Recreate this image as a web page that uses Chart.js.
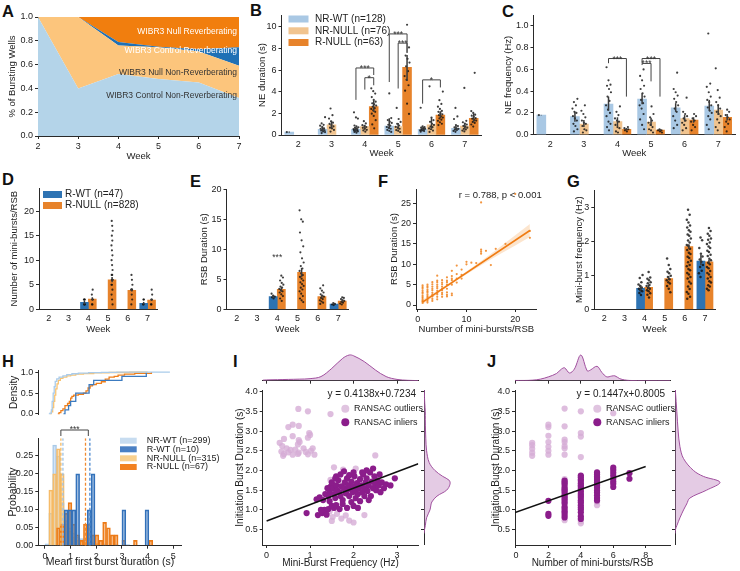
<!DOCTYPE html>
<html>
<head>
<meta charset="utf-8">
<title>Figure</title>
<script src="https://cdn.jsdelivr.net/npm/chart.js@4.4.1/dist/chart.umd.min.js"></script>
<style>
html,body{margin:0;padding:0;background:#fff;}
#fig{position:relative;width:740px;height:571px;overflow:hidden;background:#fff;}
#fig canvas{position:absolute;}
.pl{position:absolute;font-family:"Liberation Sans",Arial,sans-serif;font-weight:bold;font-size:16.5px;line-height:16.5px;color:#111;}
</style>
</head>
<body>
<div id="fig">
<div class="pl" style="left:2px;top:3px">A</div>
<div class="pl" style="left:250px;top:2px">B</div>
<div class="pl" style="left:502px;top:3px">C</div>
<div class="pl" style="left:2px;top:171px">D</div>
<div class="pl" style="left:190px;top:173px">E</div>
<div class="pl" style="left:378px;top:173px">F</div>
<div class="pl" style="left:567px;top:173px">G</div>
<div class="pl" style="left:2px;top:353px">H</div>
<div class="pl" style="left:233px;top:353px">I</div>
<div class="pl" style="left:487px;top:353px">J</div>
</div>
<script>
// ======================= DATA =======================
const WEEKS = ['2','3','4','5','6','7'];

// ---- A: fraction of bursting wells (stack order bottom -> top)
const A_WEEKS = [2,3,4,5,6,7];
const A_CTRL_NONREV = [1.0,0.40,0.52,0.48,0.45,0.32];
const A_NULL_NONREV = [0.0,0.60,0.24,0.265,0.26,0.27];
const A_CTRL_REV    = [0.0,0.0,0.03,0.005,0.02,0.155];
const A_NULL_REV    = [0.0,0.0,0.21,0.25,0.27,0.255];
const A_NAMES = ['WIBR3 Control Non-Reverberating','WIBR3 Null Non-Reverberating','WIBR3 Control Reverberating','WIBR3 Null Reverberating'];

// ---- B: NE duration (s)
const B_NAMES = ['NR-WT (n=128)','NR-NULL (n=76)','R-NULL (n=63)'];
const B_NRWT   = [0.28,0.53,0.53,0.83,0.53,0.62];
const B_NRNULL = [null,0.93,0.77,0.77,0.93,0.83];
const B_RNULL  = [null,null,2.62,6.25,1.85,1.54];
const B_CI_NRWT   = [[0.22,0.32],[0.36,0.78],[0.42,0.68],[0.56,1.55],[0.45,0.68],[0.46,0.9]];
const B_CI_NRNULL = [null,[0.62,1.32],[0.58,0.95],[0.5,1.12],[0.58,1.6],[0.6,1.12]];
const B_CI_RNULL  = [null,null,[2.15,3.2],[5.0,7.4],[1.55,2.2],[1.22,2.0]];
const B_PTS_NRWT = [[0.27],[0.18,0.27,0.33,0.41,0.44,0.52,0.58,0.61,0.73,0.86,0.94,1.08,1.65],[0.21,0.28,0.34,0.37,0.43,0.46,0.51,0.55,0.62,0.66,0.71,0.79,0.88,1.52,1.63,2.1],[0.28,0.39,0.47,0.58,0.66,0.74,0.87,0.95,1.12,1.23,1.38,1.57,3.85],[0.31,0.36,0.42,0.44,0.49,0.53,0.57,0.63,0.68,0.72,0.81,2.52],[0.29,0.38,0.46,0.49,0.57,0.62,0.71,0.83,0.92,1.48,1.72,2.5]];
const B_PTS_NRNULL = [[],[0.32,0.47,0.61,0.68,0.79,0.93,1.02,1.14,1.27,1.52,1.83,2.45],[0.31,0.42,0.48,0.57,0.66,0.74,0.83,0.91,1.07,1.28],[0.27,0.39,0.46,0.58,0.67,0.76,0.88,1.03,1.21,1.48,2.5],[0.28,0.41,0.53,0.61,0.72,0.78,0.93,1.04,1.22,1.37,1.62,4.5],[0.33,0.41,0.52,0.57,0.68,0.77,0.84,0.97,1.06,1.18,1.31,4.35]];
const B_PTS_RNULL = [[],[],[0.62,0.98,1.37,1.76,1.97,2.14,2.27,2.41,2.48,2.63,2.72,2.84,2.93,3.08,3.24,3.51,3.83,4.05,4.32],[1.95,2.9,4.1,4.6,5.1,5.45,5.9,6.35,6.7,7.05,7.35,8.1,10.2],[0.92,1.04,1.18,1.31,1.42,1.53,1.61,1.72,1.83,1.91,2.02,2.14,2.23,2.41,2.62,2.87,3.22,4.02],[0.78,0.97,1.12,1.21,1.33,1.38,1.51,1.57,1.68,1.79,1.88,2.04,2.21,5.75]];

// ---- C: NE frequency (Hz)
const C_NRWT   = [0.18,0.166,0.282,0.328,0.248,0.264];
const C_NRNULL = [null,0.098,0.12,0.117,0.147,0.227];
const C_RNULL  = [null,null,0.05,0.043,0.135,0.16];
const C_CI_NRWT   = [[0.178,0.182],[0.12,0.21],[0.22,0.35],[0.28,0.38],[0.21,0.29],[0.22,0.32]];
const C_CI_NRNULL = [null,[0.07,0.135],[0.08,0.16],[0.08,0.155],[0.12,0.18],[0.18,0.28]];
const C_CI_RNULL  = [null,null,[0.04,0.06],[0.033,0.052],[0.11,0.16],[0.13,0.19]];
const C_PTS_NRWT = [[0.18],[0.03,0.05,0.08,0.1,0.13,0.15,0.17,0.2,0.21,0.24,0.27,0.3,0.33],[0.04,0.07,0.1,0.12,0.17,0.2,0.23,0.27,0.31,0.35,0.39,0.42,0.45,0.46,0.5,0.62],[0.05,0.09,0.14,0.19,0.24,0.27,0.29,0.32,0.35,0.38,0.42,0.45,0.5,0.54,0.6],[0.06,0.09,0.13,0.17,0.21,0.24,0.27,0.3,0.33,0.36,0.39,0.42,0.57],[0.05,0.09,0.14,0.17,0.2,0.22,0.25,0.27,0.3,0.32,0.35,0.39,0.44,0.47,0.93]];
const C_PTS_NRNULL = [[],[0.02,0.04,0.05,0.08,0.1,0.11,0.13,0.16,0.19,0.22,0.27],[0.02,0.03,0.06,0.07,0.09,0.12,0.13,0.15,0.18,0.21,0.26],[0.02,0.04,0.05,0.07,0.09,0.11,0.13,0.16,0.19,0.26],[0.04,0.06,0.09,0.11,0.13,0.15,0.17,0.19,0.21,0.34],[0.04,0.07,0.11,0.14,0.17,0.19,0.21,0.24,0.27,0.3,0.34,0.41,0.61]];
const C_PTS_RNULL = [[],[],[0.03,0.04,0.05,0.05,0.06,0.07],[0.02,0.03,0.04,0.04,0.05],[0.04,0.07,0.09,0.12,0.13,0.15,0.17,0.19],[0.03,0.07,0.1,0.12,0.14,0.16,0.18,0.21,0.23]];

// ---- D: number of mini-bursts per RSB
const D_NAMES = ['R-WT (n=47)','R-NULL (n=828)'];
const D_WT   = [null,null,1.43,null,null,1.22];
const D_NULL = [null,null,2.1,5.98,3.87,1.9];
const D_CI_WT   = [null,null,[1.0,1.8],null,null,[1.0,1.5]];
const D_CI_NULL = [null,null,[1.8,2.45],[5.5,6.6],[3.6,4.2],[1.7,2.1]];
const D_PTS_WT   = [[],[],[1,1,1,2,2,2],[],[],[1,1,2,2]];
const D_PTS_NULL = [[],[],[1,1,2,2,3,4],[1,2,3,4,5,5,6,6,6,7,7,8,9,10,11,12,13,14,15,16,17,18],[1,2,3,4,4,4,5,6,7],[1,1,2,2,3,4]];

// ---- E: RSB duration (s)
const E_WT   = [null,null,2.1,null,null,0.88];
const E_NULL = [null,null,3.33,6.17,2.1,1.38];
const E_CI_WT   = [null,null,[1.85,2.4],null,null,[0.75,1.0]];
const E_CI_NULL = [null,null,[2.9,3.7],[5.4,6.9],[1.85,2.4],[1.2,1.5]];
const E_PTS_WT   = [[],[],[1.8,2.0,2.1,2.3,2.6],[],[],[0.7,0.8,0.9,1.05]];
const E_PTS_NULL = [[],[],[1.4,1.8,2.2,2.5,2.8,3.0,3.2,3.4,3.6,3.8,4.1,4.4,4.8,5.3,5.6],[1.2,1.5,1.8,2.2,2.6,3.0,3.3,3.6,3.9,4.2,4.5,4.8,5.1,5.4,5.7,6.0,6.4,6.8,7.2,7.8,8.5,9.5,10.5,11.5,12.8,14.6,15.0,16.5],[0.9,1.1,1.3,1.5,1.7,1.9,2.1,2.3,2.5,2.8,3.1,3.5,4.0],[0.8,0.95,1.1,1.25,1.4,1.55,1.7,1.9,2.0]];

// ---- F: RSB duration vs number of mini-bursts
const F_COUNTS = [1,2,3,4,5,6,7,8,9,10,11,12,13,14,15,16,18,20,23];
const F_DURS = [[0.5,0.8,1.0,1.3,1.7,2.0,2.4,2.9,3.2,3.6,4.1,4.4,4.8],[0.6,1.0,1.4,1.9,2.2,2.6,3.1,3.4,3.8,4.3,4.6,5.0],[1.0,1.5,2.1,2.5,3.0,3.6,4.0,4.5,5.1,5.6],[1.4,2.0,2.6,3.0,3.5,4.1,4.5,5.0,5.6,6.0,7.2],[2.0,2.6,3.0,3.6,4.0,4.5,5.1,5.5,6.1],[2.1,2.5,3.1,4.0,5.0,5.6,6.0,6.8],[2.4,2.8,5.0,6.1,6.5,7.1,8.4],[5.5,6.5,7.6,9.7],[6.5,7.4,8.7],[10.0,10.6],[10.4],[10.3],[12.6,13.1,13.6,25.2],[13.3],[9.8],[13.8],[15.0],[27.3],[16.5,18.2]];
const F_FIT_X = [1,23];
const F_FIT_Y = [0.7,18.3];
const F_CI_X  = [1,3,5,8,11,14,17,20,23];
const F_CI_LO = [0.1,1.85,3.55,6.0,8.3,10.5,12.6,14.65,16.7];
const F_CI_HI = [1.3,2.75,4.25,6.6,9.1,11.7,14.4,17.15,19.9];

// ---- G: mini-burst frequency (Hz)
const G_WT   = [null,null,0.62,null,null,1.42];
const G_NULL = [null,null,0.65,0.91,1.85,1.40];
const G_CI_WT   = [null,null,[0.55,0.72],null,null,[1.3,1.6]];
const G_CI_NULL = [null,null,[0.6,0.72],[0.86,0.98],[1.78,1.92],[1.36,1.46]];
const G_PTS_WT   = [[],[],[0.42,0.48,0.53,0.56,0.61,0.64,0.69,0.73,0.8,0.92,1.01],[],[],[0.95,1.06,1.14,1.25,1.31,1.4,1.47,1.56,1.64,1.81,2.04,2.12]];
const G_PTS_NULL = [[],[],[0.35,0.43,0.47,0.53,0.56,0.61,0.63,0.69,0.72,0.77,0.8,0.86,0.9,0.94,1.1],[0.5,0.61,0.69,0.76,0.8,0.86,0.89,0.95,0.99,1.06,1.11,1.19,1.31,1.5],[0.31,0.37,0.46,0.51,0.6,0.67,0.76,0.81,0.91,0.95,1.03,1.07,1.15,1.19,1.27,1.31,1.39,1.43,1.51,1.55,1.63,1.67,1.75,1.79,1.87,1.9,1.97,2.03,2.09,2.17,2.21,2.29,2.33,2.41,2.47,2.56,2.64,2.79,2.94],[0.56,0.61,0.67,0.71,0.79,0.83,0.91,0.95,1.03,1.07,1.13,1.21,1.25,1.33,1.37,1.45,1.49,1.57,1.61,1.69,1.73,1.81,1.85,1.93,1.97,2.05,2.09,2.17,2.23,2.31,2.4]];

// ---- H: first burst duration
const H_NAMES = ['NR-WT (n=299)','R-WT (n=10)','NR-NULL (n=315)','R-NULL (n=67)'];
const H_CDF_NRWT_X = [0.15,0.2,0.25,0.28,0.32,0.36,0.4,0.46,0.55,0.7,0.85,1.05,1.3,1.7,2.2,2.8,4.87];
const H_CDF_NRWT_Y = [0,0.02,0.1,0.3,0.5,0.65,0.78,0.84,0.88,0.91,0.94,0.96,0.975,0.985,0.993,1.0,1.0];
const H_CDF_RWT_X = [0.72,0.78,0.92,1.0,1.2,1.72,1.9,3.0,3.95];
const H_CDF_RWT_Y = [0,0.1,0.2,0.3,0.5,0.7,0.8,0.9,1.0];
const H_CDF_NRNULL_X = [0.2,0.25,0.3,0.34,0.38,0.42,0.47,0.52,0.6,0.7,0.85,1.0,1.2,1.5,1.9,2.5,3.3,4.0];
const H_CDF_NRNULL_Y = [0,0.05,0.15,0.3,0.45,0.6,0.72,0.8,0.85,0.88,0.91,0.93,0.95,0.965,0.98,0.99,1.0,1.0];
const H_CDF_RNULL_X = [0.5,0.55,0.62,0.7,0.78,0.88,0.95,1.0,1.05,1.12,1.3,1.5,1.6,1.68,1.76,1.85,2.0,2.2,2.35,2.5,2.7,2.85,3.1,3.5,4.15];
const H_CDF_RNULL_Y = [0,0.03,0.08,0.12,0.2,0.25,0.3,0.38,0.42,0.45,0.47,0.5,0.55,0.62,0.67,0.7,0.73,0.77,0.83,0.88,0.9,0.93,0.95,0.97,1.0];
const H_NRWT_BIN = [0.075,0.225,0.375,0.525,0.675,0.825,0.975,1.125,1.275,1.425,1.575,1.725,1.875,2.025,2.325,2.775,3.225];
const H_NRWT_P   = [0.005,0.09,0.28,0.25,0.12,0.07,0.05,0.035,0.025,0.02,0.015,0.01,0.008,0.006,0.005,0.004,0.003];
const H_RWT_BIN = [0.825,0.975,1.125,1.275,1.725,1.875,3.075,3.975];
const H_RWT_P   = [0.1,0.1,0.1,0.2,0.1,0.2,0.1,0.1];
const H_NRNULL_BIN = [0.225,0.375,0.525,0.675,0.825,0.975,1.125,1.275,1.425,1.575,1.725,2.025];
const H_NRNULL_P   = [0.155,0.2,0.27,0.2,0.06,0.04,0.025,0.015,0.012,0.01,0.008,0.005];
const H_RNULL_BIN = [0.525,0.675,0.825,0.975,1.125,1.275,1.425,1.575,1.725,1.875,2.025,2.175,2.325,2.475,2.625,2.775,3.075,3.525,4.125];
const H_RNULL_P   = [0.05,0.06,0.09,0.12,0.06,0.03,0.015,0.06,0.06,0.03,0.03,0.015,0.065,0.05,0.03,0.03,0.015,0.015,0.015];
const H_MEANS = [0.70,1.75,0.62,1.58];

// ---- I: initiation burst duration vs mini-burst frequency
const I_FIT = [[0,0.72],[3.49,2.17]];
const I_INLIERS = [[0.92,0.92],[1.18,0.87],[1.28,0.92],[1.33,1.0],[1.25,1.0],[1.42,1.02],[1.38,0.88],[1.5,1.1],[1.55,1.05],[1.6,1.12],[1.15,1.27],[1.22,1.32],[1.3,1.25],[1.35,1.4],[1.42,1.35],[1.45,1.48],[1.48,1.6],[1.5,1.7],[1.52,1.55],[1.55,1.4],[1.58,1.3],[1.6,1.62],[1.62,1.5],[1.65,1.75],[1.68,1.45],[1.7,1.35],[1.72,1.6],[1.75,1.25],[1.78,1.55],[1.8,1.7],[1.82,1.42],[1.85,1.5],[1.85,1.8],[1.88,1.62],[1.9,1.35],[1.92,1.55],[1.95,1.72],[1.95,1.2],[1.98,1.45],[2.0,1.6],[2.02,1.85],[2.05,1.5],[2.05,1.3],[2.08,1.68],[2.1,1.4],[2.12,1.55],[2.15,1.78],[2.15,1.22],[2.18,1.62],[2.2,1.45],[2.22,1.9],[2.25,1.55],[2.25,1.35],[2.28,1.7],[2.3,1.8],[2.32,1.48],[2.35,1.62],[2.38,1.95],[2.4,1.35],[2.42,1.72],[2.45,1.55],[2.48,1.85],[2.5,1.65],[2.52,1.5],[2.55,1.75],[2.58,1.62],[2.6,1.9],[2.65,1.7],[2.7,1.55],[2.75,1.65],[2.85,1.62],[2.95,1.8],[2.3,2.0],[2.45,2.05],[2.2,1.95],[1.7,1.9],[1.9,1.88],[1.6,1.85],[1.75,1.15],[2.0,1.1],[1.85,1.05],[1.45,1.22],[1.68,1.02],[2.1,1.05],[1.58,1.8],[2.35,1.25],[2.0,1.95],[1.78,1.98],[1.4,1.55],[2.62,1.45]];
const I_OUTLIERS = [[0.73,3.56],[0.95,3.5],[1.47,3.43],[0.5,3.1],[0.6,3.16],[0.74,3.13],[0.98,2.95],[1.0,2.9],[0.95,2.83],[0.4,2.8],[0.6,2.87],[0.74,2.77],[0.76,2.72],[0.72,2.66],[0.3,2.7],[0.36,2.62],[0.46,2.56],[0.55,2.52],[0.34,2.48],[0.4,2.42],[0.5,2.46],[0.6,2.4],[0.66,2.53],[0.74,2.45],[0.85,2.56],[0.9,2.47],[0.95,2.41],[1.02,2.5],[1.06,2.56],[1.1,2.4],[0.38,2.37],[0.72,2.42],[2.5,2.38],[1.55,2.08],[1.76,2.02],[2.05,2.05],[1.47,1.76],[1.5,0.72],[1.52,0.82],[1.72,0.78],[1.82,0.86],[2.0,0.68],[1.9,0.73],[1.62,0.9],[2.25,0.87],[1.45,0.96]];
const I_TOP_X = [-0.09,0,0.25,0.5,0.75,1.0,1.25,1.5,1.75,1.9,2.0,2.25,2.5,2.75,3.0,3.25,3.49];
const I_TOP_D = [0.02,0.03,0.04,0.05,0.06,0.08,0.16,0.48,0.87,1.0,0.97,0.74,0.42,0.16,0.05,0.015,0.005];
const I_RIGHT_Y = [0.4,0.5,0.6,0.8,1.0,1.1,1.2,1.35,1.5,1.65,1.75,1.85,2.0,2.2,2.5,2.8,3.0,3.3,3.5,3.7,4.0,4.04];
const I_RIGHT_D = [0,0.02,0.05,0.1,0.23,0.26,0.3,0.5,0.87,1.0,0.97,0.72,0.42,0.2,0.1,0.07,0.06,0.05,0.05,0.03,0.01,0.01];

// ---- J: initiation burst duration vs number of mini-bursts
const J_FIT = [[-0.06,0.93],[8,2.1]];
const J_IN_COUNTS = [2,3,4,5,6,7];
const J_IN_VALS = [[0.85,0.9,1.23],[0.81,0.87,0.93,0.97,1.03,1.08,1.16,1.21,1.27,1.32,1.37,1.43,1.48,1.52,1.57,1.64,1.69,1.74],[0.77,0.84,0.94,1.01,1.06,1.12,1.19,1.24,1.31,1.36,1.41,1.47,1.53,1.58,1.62,1.67,1.73,1.77,1.83,1.87],[1.24,1.3,1.37,1.44,1.49,1.56,1.61,1.64,1.7,1.76,1.81,1.84,1.9,1.95],[1.58,1.66,1.72,1.79,1.87,1.94,2.01,2.07],[1.79,1.93]];
const J_OUT_COUNTS = [1,2,3,4,5,6];
const J_OUT_VALS = [[2.37,2.45,2.55,2.64,2.7],[2.4,2.5,2.6,2.72,2.88,3.1,3.16],[2.4,2.56,2.62,2.72,2.78,3.12,3.57,0.74,1.78,1.7],[2.34,2.86,2.95,3.5,0.66,0.72],[1.12,1.2],[3.45]];
const J_TOP_X = [-0.06,0.5,1.0,1.5,2.0,2.5,2.8,3.0,3.3,3.6,4.0,4.4,4.6,5.0,5.3,5.6,5.9,6.1,6.4,6.7,7.0,8.0,9.5];
const J_TOP_D = [0.01,0.01,0.02,0.06,0.15,0.28,0.45,0.5,0.3,0.45,1.0,0.38,0.42,0.56,0.32,0.15,0.18,0.19,0.08,0.03,0.01,0.0,0.0];
const J_RIGHT_Y = [0.4,0.5,0.6,0.8,1.0,1.15,1.3,1.5,1.7,1.85,2.0,2.3,2.6,3.0,3.5,4.0,4.04];
const J_RIGHT_D = [0,0.01,0.04,0.11,0.19,0.26,0.33,0.7,1.0,0.63,0.41,0.19,0.11,0.07,0.04,0.01,0.01];
const RANSAC_NAMES = ['RANSAC outliers','RANSAC inliers'];

// ======================= HELPERS =======================
const FONT = '"Liberation Sans", Arial, sans-serif';
Chart.defaults.font.family = FONT;
Chart.defaults.color = '#222';
const AX = '#2a2a2a', TXT = '#222', TF = 9;
const fmt0 = v => String(Math.round(v)), fmt1 = v => v.toFixed(1), fmt2 = v => v.toFixed(2);

function mk(box){
  const c = document.createElement('canvas');
  c.width = box.w; c.height = box.h;
  c.style.left = box.x + 'px'; c.style.top = box.y + 'px';
  c.style.width = box.w + 'px'; c.style.height = box.h + 'px';
  document.getElementById('fig').appendChild(c);
  return c;
}
function base(box, area, hideX, hideY){
  return {
    responsive:false, maintainAspectRatio:false, animation:false, devicePixelRatio:1, events:[],
    layout:{autoPadding:false, padding:{top:area.t-box.y, right:box.x+box.w-area.r,
      bottom: hideX ? box.y+box.h-area.b : 0, left: hideY ? area.l-box.x : 0}},
    plugins:{legend:{display:false}, tooltip:{enabled:false}, title:{display:false}}
  };
}
function yLin(o){
  return {type:'linear', position:'left', min:o.min, max:o.max,
    border:{display:true,color:AX,width:1},
    grid:{display:true,drawOnChartArea:false,drawTicks:true,tickLength:3,color:AX,lineWidth:1},
    ticks:{display:o.labels!==false, stepSize:o.step, includeBounds:false, padding:2, color:TXT, font:{size:TF}, callback:o.fmt},
    title:{display:!!o.title, text:o.title||'', color:TXT, font:{size:o.tf||9.5}, padding:0},
    afterFit:(s)=>{ s.width = o.w; }};
}
function xLin(o){
  const ax = {type:'linear', position:'bottom', min:o.min, max:o.max, offset:false,
    border:{display:true,color:AX,width:1},
    grid:{display:o.noTicks ? false : true, drawOnChartArea:false, drawTicks:!o.noTicks, tickLength:3, color:AX, lineWidth:1, offset:false},
    ticks:{display:o.labels!==false, stepSize:o.step, includeBounds:false, padding:o.noTicks ? 4 : 2, maxRotation:0, autoSkip:false, color:TXT, font:{size:TF}, callback:o.fmt},
    title:{display:!!o.title, text:o.title||'', color:TXT, font:{size:o.tf||9.5}, padding:0},
    afterFit:(s)=>{ s.height = o.h; }};
  if (o.tickValues) ax.afterBuildTicks = (s) => { s.ticks = o.tickValues.map(v => ({value:v})); };
  return ax;
}

// grouped bars (placed on a linear week-index axis) + strip points + error bars + brackets
function barPanel(o){
  const n = o.series.length, bw = 0.8/n;
  const off = h => n === 3 ? (h-1)*bw : (h-0.5)*bw;
  const ds = [];
  o.series.forEach((s,h) => {
    const d = [];
    s.means.forEach((m,w) => { if (m !== null) d.push({x: w + off(h), y: m}); });
    ds.push({type:'bar', data:d, backgroundColor:s.color, borderWidth:0, grouped:false,
      barPercentage:1, categoryPercentage:1, order:3});
  });
  o.series.forEach((s,h) => {
    const pts = [];
    s.pts.forEach((arr,w) => arr.forEach((v,i) => {
      const j = ((((i*7 + w*3) % 11)/10) - 0.5) * bw * o.jit;
      pts.push({x: w + off(h) + j, y: v});
    }));
    ds.push({type:'scatter', data:pts, pointRadius:o.pr||1.1,
      pointBackgroundColor:'rgba(15,15,15,0.8)', pointBorderWidth:0, order:2});
  });
  const opts = base(o.box, o.area);
  opts.scales = {
    x: xLin({min:-0.5, max:5.5, step:1, tickValues:WEEKS.map((_,i)=>i), fmt: v => WEEKS[Math.round(v)],
             title:o.xtitle, noTicks:true, h:o.box.y+o.box.h-o.area.b}),
    y: yLin({min:0, max:o.ymax, step:o.ystep, fmt:o.fmt, title:o.ytitle, w:o.area.l-o.box.x})
  };
  new Chart(mk(o.box), {type:'bar', data:{datasets:ds}, options:opts,
    plugins:[{id:'extra', afterDatasetsDraw(c){
      const ctx = c.ctx, xs = c.scales.x, y = c.scales.y, a = c.chartArea;
      ctx.save();
      ctx.strokeStyle = '#3a3a3a'; ctx.lineWidth = 1.5;
      o.series.forEach((s,h) => s.ci.forEach((ci,w) => {
        if (!ci) return;
        const px = xs.getPixelForValue(w + off(h));
        ctx.beginPath(); ctx.moveTo(px, y.getPixelForValue(ci[0])); ctx.lineTo(px, y.getPixelForValue(ci[1])); ctx.stroke();
      }));
      (o.brackets||[]).forEach(b => {
        const x1 = xs.getPixelForValue(b[0]+off(b[1])), x2 = xs.getPixelForValue(b[0]+off(b[2]));
        const yt = y.getPixelForValue(b[3]);
        if (b[4] !== null){
          ctx.strokeStyle = '#444'; ctx.lineWidth = 1;
          ctx.beginPath(); ctx.moveTo(x1, y.getPixelForValue(b[4])); ctx.lineTo(x1, yt);
          ctx.lineTo(x2, yt); ctx.lineTo(x2, y.getPixelForValue(b[5])); ctx.stroke();
        }
        ctx.fillStyle = '#333'; ctx.font = '8.5px ' + FONT; ctx.textAlign = 'center'; ctx.textBaseline = 'alphabetic';
        ctx.fillText(b[6], (x1+x2)/2, yt + 3);
      });
      if (o.legend){
        const L = o.legend;
        ctx.font = L.font + 'px ' + FONT; ctx.textAlign = 'left'; ctx.textBaseline = 'middle';
        L.names.forEach((nm,i) => {
          const yy = a.top + L.rows[i];
          ctx.fillStyle = o.series[i].color; ctx.fillRect(a.left + L.px, yy - L.ph/2, L.pw, L.ph);
          ctx.fillStyle = TXT; ctx.fillText(nm, a.left + L.tx, yy);
        });
      }
      ctx.restore();
    }}]});
}

const C_NRWT_COL = '#a9c8e4', C_NRNULL_COL = '#f1c48f', C_RNULL_COL = '#e7832b', C_RWT_COL = '#2e73b3';

// ======================= A =======================
(function(){
  const box = {x:7, y:5, w:240, h:157}, area = {l:38, t:17, r:239, b:136};
  const cols = ['#b4d4e9','#fcc57c','#1f70b5','#f17e0e'];
  const series = [A_CTRL_NONREV, A_NULL_NONREV, A_CTRL_REV, A_NULL_REV];
  const opts = base(box, area);
  const yax = yLin({min:0, max:1, step:0.2, fmt:fmt1, title:'% of Bursting Wells', w:area.l-box.x});
  yax.stacked = true;
  opts.scales = {x: xLin({min:2, max:7, step:1, fmt:fmt0, title:'Week', h:box.y+box.h-area.b}), y: yax};
  const labels = [{s:A_NAMES[3], y:0.88, c:'#ffffff'}, {s:A_NAMES[2], y:0.717, c:'#ffffff'},
                  {s:A_NAMES[1], y:0.53, c:'#333333'}, {s:A_NAMES[0], y:0.336, c:'#333333'}];
  new Chart(mk(box), {type:'line', data:{datasets: series.map((s,i) => ({
      data: s.map((v,j) => ({x:A_WEEKS[j], y:v})), backgroundColor:cols[i], borderColor:'rgba(0,0,0,0)',
      borderWidth:0, pointRadius:0, fill: i === 0 ? 'origin' : '-1', tension:0}))},
    options:opts,
    plugins:[{id:'atext', afterDatasetsDraw(c){
      const ctx = c.ctx; ctx.save(); ctx.font = '8.5px ' + FONT; ctx.textAlign = 'right'; ctx.textBaseline = 'middle';
      labels.forEach(t => { ctx.fillStyle = t.c; ctx.fillText(t.s, c.chartArea.right - 2, c.scales.y.getPixelForValue(t.y)); });
      ctx.restore();
    }}]});
})();

// ======================= B =======================
barPanel({box:{x:257, y:5, w:233, h:154}, area:{l:281.5, t:15, r:481.5, b:135},
  ymax:11.1, ystep:2, fmt:fmt0, ytitle:'NE duration (s)', xtitle:'Week', jit:0.55,
  series:[{means:B_NRWT, ci:B_CI_NRWT, pts:B_PTS_NRWT, color:C_NRWT_COL},
          {means:B_NRNULL, ci:B_CI_NRNULL, pts:B_PTS_NRNULL, color:C_NRNULL_COL},
          {means:B_RNULL, ci:B_CI_RNULL, pts:B_PTS_RNULL, color:C_RNULL_COL}],
  brackets:[[2,0,2,6.2,3.25,5.55,'***'],[2,1,2,5.3,4.2,4.6,'*'],[3,0,2,9.35,4.9,7.6,'***'],[3,1,2,8.5,4.3,7.6,'***'],[4,0,2,5.1,2.9,4.4,'*']],
  legend:{names:B_NAMES, rows:[4,15.8,27.5], px:7, pw:20, ph:7, tx:33.5, font:10}});

// ======================= C =======================
barPanel({box:{x:503, y:5, w:237, h:154}, area:{l:533.5, t:15, r:735, b:134.7},
  ymax:1.1, ystep:0.2, fmt:fmt1, ytitle:'NE frequency (Hz)', xtitle:'Week', jit:0.55,
  series:[{means:C_NRWT, ci:C_CI_NRWT, pts:C_PTS_NRWT, color:C_NRWT_COL},
          {means:C_NRNULL, ci:C_CI_NRNULL, pts:C_PTS_NRNULL, color:C_NRNULL_COL},
          {means:C_RNULL, ci:C_CI_RNULL, pts:C_PTS_RNULL, color:C_RNULL_COL}],
  brackets:[[2,0,2,0.70,0.657,0.35,'***'],[3,0,2,0.70,0.657,0.35,'***'],[3,0,1,0.655,0.64,0.49,'***']]});

// ======================= D =======================
barPanel({box:{x:9, y:178, w:157, h:157}, area:{l:39, t:188, r:157.5, b:309.3},
  ymax:24.7, ystep:5, fmt:fmt0, ytitle:'Number of mini-bursts/RSB', xtitle:'Week', jit:0.15, pr:1.1,
  series:[{means:D_WT, ci:D_CI_WT, pts:D_PTS_WT, color:C_RWT_COL},
          {means:D_NULL, ci:D_CI_NULL, pts:D_PTS_NULL, color:C_RNULL_COL}],
  legend:{names:D_NAMES, rows:[6.5,17.5], px:4, pw:19, ph:7, tx:26, font:10}});

// ======================= E =======================
barPanel({box:{x:199, y:179, w:158, h:156}, area:{l:226.5, t:189.3, r:348.3, b:309.3},
  ymax:20, ystep:5, fmt:fmt0, ytitle:'RSB Duration (s)', xtitle:'Week', jit:0.5,
  series:[{means:E_WT, ci:E_CI_WT, pts:E_PTS_WT, color:C_RWT_COL},
          {means:E_NULL, ci:E_CI_NULL, pts:E_PTS_NULL, color:C_RNULL_COL}],
  brackets:[[2,0,1,8.65,null,null,'***']]});

// ======================= G =======================
barPanel({box:{x:574, y:180, w:152, h:155}, area:{l:594.3, t:190, r:715, b:309.3},
  ymax:3.52, ystep:1, fmt:fmt0, ytitle:'Mini-burst frequency (Hz)', xtitle:'Week', jit:0.5, pr:1.25,
  series:[{means:G_WT, ci:G_CI_WT, pts:G_PTS_WT, color:C_RWT_COL},
          {means:G_NULL, ci:G_CI_NULL, pts:G_PTS_NULL, color:C_RNULL_COL}]});

// ======================= F =======================
(function(){
  const box = {x:389, y:179, w:158, h:156}, area = {l:416, t:189, r:536.7, b:309};
  const opts = base(box, area);
  opts.scales = {x: xLin({min:-0.35, max:24.4, step:10, fmt:fmt0, title:'Number of mini-bursts/RSB', h:box.y+box.h-area.b}),
                 y: yLin({min:-0.98, max:28.5, step:5, fmt:fmt0, title:'RSB Duration (s)', w:area.l-box.x})};
  const pts = [];
  F_COUNTS.forEach((c,i) => F_DURS[i].forEach(v => pts.push({x:c, y:v})));
  new Chart(mk(box), {type:'scatter', data:{datasets:[
    {type:'line', data:F_CI_X.map((x,i)=>({x:x, y:F_CI_LO[i]})), borderWidth:0, borderColor:'rgba(0,0,0,0)', pointRadius:0, fill:false, order:3},
    {type:'line', data:F_CI_X.map((x,i)=>({x:x, y:F_CI_HI[i]})), borderWidth:0, borderColor:'rgba(0,0,0,0)', pointRadius:0, fill:'-1', backgroundColor:'rgba(244,160,80,0.28)', order:2},
    {type:'scatter', data:pts, pointRadius:1.1, pointBackgroundColor:'rgba(240,130,30,0.85)', pointBorderWidth:0, order:1},
    {type:'line', data:F_FIT_X.map((x,i)=>({x:x, y:F_FIT_Y[i]})), borderColor:'#f07c14', borderWidth:1.6, pointRadius:0, fill:false, order:0}
  ]}, options:opts, plugins:[{id:'ftext', afterDatasetsDraw(c){
    const ctx = c.ctx; ctx.save(); ctx.font = '9.5px ' + FONT; ctx.fillStyle = TXT; ctx.textAlign = 'right'; ctx.textBaseline = 'middle';
    ctx.fillText('r = 0.788, p < 0.001', c.chartArea.right + 5, c.chartArea.top + 6); ctx.restore();
  }}]});
})();

// ======================= H (top: cumulative) =======================
const H_COLS = {nrwt:'#a9cbea', rwt:'#3c7bc0', nrnull:'#f8c372', rnull:'#f07f1a'};
(function(){
  const box = {x:8, y:362, w:180, h:60}, area = {l:38.3, t:370, r:181.7, b:421.7};
  const opts = base(box, area, true, false);
  opts.scales = {x:{type:'linear', display:false, min:-0.26, max:5.33},
                 y: yLin({min:-0.015, max:1.05, step:0.5, fmt:fmt1, title:'Density', tf:10, w:area.l-box.x})};
  const mkd = (X, Y, col) => ({data:X.map((x,i)=>({x:x, y:Y[i]})), borderColor:col, borderWidth:1.3, pointRadius:0, stepped:true, fill:false});
  new Chart(mk(box), {type:'line', data:{datasets:[
    mkd(H_CDF_NRWT_X, H_CDF_NRWT_Y, H_COLS.nrwt),
    mkd(H_CDF_NRNULL_X, H_CDF_NRNULL_Y, H_COLS.nrnull),
    mkd(H_CDF_RWT_X, H_CDF_RWT_Y, H_COLS.rwt),
    mkd(H_CDF_RNULL_X, H_CDF_RNULL_Y, H_COLS.rnull)
  ]}, options:opts});
})();

// ======================= H (bottom: histogram) =======================
(function(){
  const box = {x:7, y:420, w:221, h:148}, area = {l:38.3, t:438.2, r:181.7, b:545.7};
  const opts = base(box, area);
  opts.scales = {x: xLin({min:-0.26, max:5.33, step:1, fmt:fmt0, title:'Mean first burst duration (s)', tf:10.5, h:box.y+box.h-area.b}),
                 y: Object.assign(yLin({min:0, max:0.2995, step:0.05, fmt:fmt2, title:'Probability', tf:10.5, w:area.l-box.x}), {beginAtZero:true})};
  const hb = (B, P, fill, edge, ord) => ({type:'bar', data:B.map((b,i)=>({x:b, y:P[i]})), backgroundColor:fill, borderColor:edge,
    borderWidth:1, grouped:false, barPercentage:1, categoryPercentage:1, order:ord});
  const ml = (m, col) => ({type:'line', data:[{x:m, y:0}, {x:m, y:0.2995}], borderColor:col, borderWidth:1.3, borderDash:[3,2], pointRadius:0, fill:false, order:0});
  new Chart(mk(box), {type:'bar', data:{datasets:[
    hb(H_NRWT_BIN, H_NRWT_P, 'rgba(190,214,238,0.65)', 'rgba(165,200,232,1)', 4),
    hb(H_NRNULL_BIN, H_NRNULL_P, 'rgba(248,196,120,0.55)', 'rgba(245,185,100,1)', 3),
    hb(H_RNULL_BIN, H_RNULL_P, 'rgba(240,128,30,0.5)', 'rgba(236,122,22,1)', 2),
    hb(H_RWT_BIN, H_RWT_P, 'rgba(60,123,192,0.45)', 'rgba(50,112,185,1)', 1),
    ml(H_MEANS[2], '#f5b860'), ml(H_MEANS[0], '#9cc2e6'), ml(H_MEANS[3], '#f08a30'), ml(H_MEANS[1], '#4d8ad0')
  ]}, options:opts, plugins:[{id:'hextra', afterDatasetsDraw(c){
    const ctx = c.ctx, a = c.chartArea, xs = c.scales.x;
    ctx.save();
    const x1 = xs.getPixelForValue(0.62), x2 = xs.getPixelForValue(1.69), yt = a.top - 8.2;
    ctx.strokeStyle = '#444'; ctx.lineWidth = 1;
    ctx.beginPath(); ctx.moveTo(x1, a.top - 2.2); ctx.lineTo(x1, yt); ctx.lineTo(x2, yt); ctx.lineTo(x2, a.top - 2.2); ctx.stroke();
    ctx.fillStyle = '#333'; ctx.font = '8.5px ' + FONT; ctx.textAlign = 'center'; ctx.textBaseline = 'alphabetic';
    ctx.fillText('***', (x1+x2)/2, yt + 2);
    const pc = ['#c7dcf0','#4a80c4','#f8d08e','#f28120'], rows = [2.5,11.1,20.1,28.8];
    ctx.font = '9px ' + FONT; ctx.textAlign = 'left'; ctx.textBaseline = 'middle';
    H_NAMES.forEach((nm,i) => {
      const yy = a.top + rows[i];
      ctx.fillStyle = pc[i]; ctx.fillRect(a.left + 81.7, yy - 3, 16.7, 6);
      ctx.fillStyle = TXT; ctx.fillText(nm, a.left + 108.4, yy);
    });
    ctx.restore();
  }}]});
})();

// ======================= I / J scatter panels =======================
const IN_COL = '#8b1d8b', OUT_COL = 'rgba(214,172,214,0.8)', KDE_LINE = '#a0509e', KDE_FILL = 'rgba(190,130,190,0.42)';
function jointMain(o){
  const opts = base(o.box, o.area);
  opts.scales = {x: xLin({min:o.xmin, max:o.xmax, step:o.xstep, fmt:fmt0, title:o.xtitle, tf:10, h:o.box.y+o.box.h-o.area.b}),
                 y: yLin({min:0.11, max:4.04, step:0.5, fmt:fmt1, title:'Initiation Burst Duration (s)', tf:10, w:o.area.l-o.box.x})};
  new Chart(mk(o.box), {type:'scatter', data:{datasets:[
    {type:'line', data:o.fit.map(p=>({x:p[0], y:p[1]})), borderColor:'#111', borderWidth:1.5, pointRadius:0, fill:false, order:0},
    {data:o.inl, pointRadius:3.1, pointBackgroundColor:IN_COL, pointBorderWidth:0, order:1},
    {data:o.outl, pointRadius:3.1, pointBackgroundColor:OUT_COL, pointBorderWidth:0, order:2}
  ]}, options:opts, plugins:[{id:'jtext', afterDatasetsDraw(c){
    const ctx = c.ctx, a = c.chartArea; ctx.save();
    ctx.font = '10px ' + FONT; ctx.fillStyle = TXT; ctx.textAlign = 'right'; ctx.textBaseline = 'middle';
    ctx.fillText(o.eq, a.right - o.eqr, a.top + 4);
    const cc = ['#e0c4e0', IN_COL], ry = [18.7, 32.3];
    ctx.font = '9px ' + FONT; ctx.textAlign = 'left';
    RANSAC_NAMES.forEach((nm,i) => {
      ctx.fillStyle = cc[i]; ctx.beginPath(); ctx.arc(a.left + o.lx, a.top + ry[i], 4, 0, Math.PI*2); ctx.fill();
      ctx.fillStyle = TXT; ctx.fillText(nm, a.left + o.lx + 8.7, a.top + ry[i]);
    });
    ctx.restore();
  }}]});
}
function topMarg(box, area, xmin, xmax, step, X, D){
  const opts = base(box, area, false, true);
  opts.scales = {x: xLin({min:xmin, max:xmax, step:step, fmt:fmt0, labels:false, h:box.y+box.h-area.b}),
                 y: {type:'linear', display:false, min:0, max:1.195}};
  new Chart(mk(box), {type:'line', data:{datasets:[{data:X.map((x,i)=>({x:x, y:D[i]})), borderColor:KDE_LINE, borderWidth:1,
    backgroundColor:KDE_FILL, fill:'origin', pointRadius:0, tension:0.35}]}, options:opts});
}
function rightMarg(box, area, xmax, Y, D){
  const opts = base(box, area, true, false);
  opts.scales = {x: {type:'linear', display:false, min:0, max:xmax},
                 y: yLin({min:0.11, max:4.04, step:0.5, fmt:fmt1, labels:false, w:area.l-box.x})};
  const pts = [{x:0, y:Y[0]}].concat(Y.map((y,i)=>({x:D[i], y:y}))).concat([{x:0, y:Y[Y.length-1]}]);
  new Chart(mk(box), {type:'line', data:{datasets:[{data:pts, borderColor:KDE_LINE, borderWidth:1,
    backgroundColor:KDE_FILL, fill:'shape', pointRadius:0, tension:0.35}]}, options:opts});
}

// I
jointMain({box:{x:234, y:380, w:190, h:189}, area:{l:262.7, t:390, r:418.3, b:545},
  xmin:-0.09, xmax:3.49, xstep:1, xtitle:'Mini-Burst Frequency (Hz)', fit:I_FIT,
  inl:I_INLIERS.map(p=>({x:p[0], y:p[1]})), outl:I_OUTLIERS.map(p=>({x:p[0], y:p[1]})),
  eq:'y = 0.4138x+0.7234', eqr:2.3, lx:82.6});
topMarg({x:262, y:344, w:162, h:40}, {l:262.7, t:350, r:418.3, b:380.7}, -0.09, 3.49, 1, I_TOP_X, I_TOP_D);
rightMarg({x:420, y:380, w:36, h:165}, {l:424, t:390, r:452, b:545}, 1.077, I_RIGHT_Y, I_RIGHT_D);

// J
(function(){
  const inl = [], outl = [];
  J_IN_COUNTS.forEach((c,i) => J_IN_VALS[i].forEach(v => inl.push({x:c, y:v})));
  J_OUT_COUNTS.forEach((c,i) => J_OUT_VALS[i].forEach(v => outl.push({x:c, y:v})));
  jointMain({box:{x:490, y:380, w:186, h:189}, area:{l:515, t:390, r:670, b:545},
    xmin:-0.06, xmax:9.5, xstep:2, xtitle:'Number of mini-bursts/RSB', fit:J_FIT,
    inl:inl, outl:outl, eq:'y = 0.1447x+0.8005', eqr:5, lx:82.3});
})();
topMarg({x:514, y:344, w:162, h:40}, {l:515, t:350, r:670, b:380.7}, -0.06, 9.5, 2, J_TOP_X, J_TOP_D);
rightMarg({x:671, y:380, w:56, h:165}, {l:675, t:390, r:723, b:545}, 1.067, J_RIGHT_Y, J_RIGHT_D);
</script>
</body>
</html>
